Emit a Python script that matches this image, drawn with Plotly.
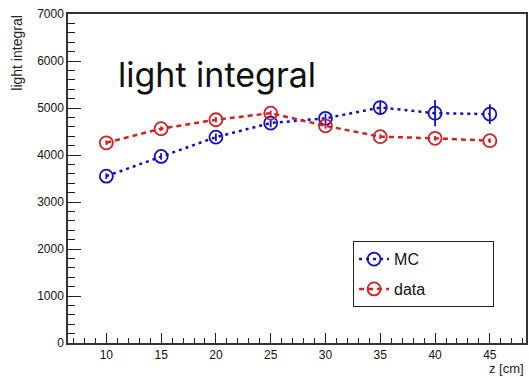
import plotly.graph_objects as go

# z positions along the detector [cm]
z_cm = [10, 15, 20, 25, 30, 35, 40, 45]

# simulated light integral and its uncertainty
mc_light = [3550, 3970, 4380, 4680, 4780, 5010, 4890, 4870]
mc_err = [60, 70, 80, 90, 100, 140, 280, 210]

# measured light integral and its uncertainty
data_light = [4260, 4560, 4750, 4890, 4620, 4390, 4355, 4305]
data_err = [50, 50, 60, 60, 60, 50, 50, 50]

y_ticks = [0, 1000, 2000, 3000, 4000, 5000, 6000, 7000]
x_ticks = [10, 15, 20, 25, 30, 35, 40, 45]

BLUE = "#1010c8"
RED = "#d82020"

# non-breaking padding widens the legend box
PAD = "\u00a0" * 14

fig = go.Figure()

fig.add_trace(go.Scatter(
    x=z_cm, y=mc_light, name="MC", mode="lines+markers", legendgroup="mc",
    line=dict(color=BLUE, width=2.5, dash="3px,4px"),
    marker=dict(symbol="circle-open", size=13, color=BLUE, line=dict(width=1.8)),
    error_y=dict(type="data", array=mc_err, color=BLUE, thickness=1.8, width=0),
))
fig.add_trace(go.Scatter(
    x=z_cm, y=data_light, name="data" + PAD, mode="lines+markers", legendgroup="data",
    line=dict(color=RED, width=2.5, dash="5px,4px"),
    marker=dict(symbol="circle-open", size=13, color=RED, line=dict(width=1.8)),
    error_y=dict(type="data", array=data_err, color=RED, thickness=1.8, width=0),
))

axis_font = dict(family="Liberation Sans, Arial, sans-serif", size=12, color="#111")

fig.update_layout(
    width=529, height=377,
    margin=dict(l=68, r=1, t=14, b=34),
    paper_bgcolor="white", plot_bgcolor="white",
    showlegend=True,
    legend=dict(
        x=0.622, y=0.31, xanchor="left", yanchor="top",
        bordercolor="#222", borderwidth=1.2, bgcolor="white",
        font=dict(family="Liberation Sans, Arial, sans-serif", size=16, color="#111"),
        itemwidth=30, tracegroupgap=6,
    ),
    xaxis=dict(
        range=[6.5, 48.3], tickvals=x_ticks, ticks="inside", ticklen=10,
        tickwidth=1.3, tickcolor="#222", showline=True, linecolor="#333",
        linewidth=1.5, mirror=True, showgrid=False, zeroline=False,
        tickfont=axis_font,
        minor=dict(dtick=1, tick0=0, ticks="inside", ticklen=5, tickcolor="#222", tickwidth=1.2),
    ),
    yaxis=dict(
        range=[0, 7000], tickvals=y_ticks, ticks="inside", ticklen=13,
        tickwidth=1.3, tickcolor="#222", showline=True, linecolor="#333",
        linewidth=1.5, mirror=True, showgrid=False, zeroline=False,
        tickfont=axis_font,
        minor=dict(dtick=200, tick0=0, ticks="inside", ticklen=7, tickcolor="#222", tickwidth=1.2),
    ),
)

# axis titles placed at the top / right ends of the axes
fig.add_annotation(
    text="light integral", xref="paper", yref="paper", x=-0.112, y=1.003,
    xanchor="center", yanchor="top", textangle=-90, showarrow=False,
    font=dict(family="Liberation Sans, Arial, sans-serif", size=14, color="#222"),
)
fig.add_annotation(
    text="z [cm]", xref="paper", yref="paper", x=1.0, y=-0.05,
    xanchor="right", yanchor="top", showarrow=False,
    font=dict(family="Liberation Sans, Arial, sans-serif", size=13, color="#222"),
)
# in-plot label
fig.add_annotation(
    text="light integral", xref="paper", yref="paper", x=0.104, y=0.815,
    xanchor="left", yanchor="middle", showarrow=False,
    font=dict(family="Inter, sans-serif", size=34, color="#111"),
)

fig.write_html("out.html")
